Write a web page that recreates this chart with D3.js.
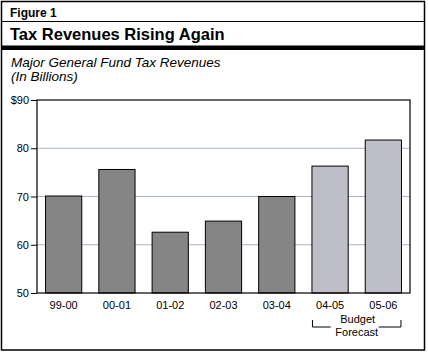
<!DOCTYPE html>
<html><head><meta charset="utf-8">
<script src="https://cdn.jsdelivr.net/npm/d3@7"></script>
<style>body{margin:0;background:#fff}svg{display:block}text{font-family:"Liberation Sans",Arial,sans-serif}</style>
</head><body>
<script>
const categories = ["99-00","00-01","01-02","02-03","03-04","04-05","05-06"];
const values = [70.1, 75.6, 62.6, 64.9, 70.0, 76.3, 81.7];
const forecast = [false,false,false,false,false,true,true];
const yTicks = [50,60,70,80,90];

const W=428,H=353;
const svg=d3.select("body").append("svg").attr("width",W).attr("height",H);
svg.append("rect").attr("x",1.5).attr("y",1.5).attr("width",423).attr("height",348.5).attr("fill","none").attr("stroke","#000").attr("stroke-width",1.5);
svg.append("text").attr("x",10).attr("y",17).attr("font-size",12).attr("font-weight","bold").text("Figure 1");
svg.append("line").attr("x1",1).attr("x2",425).attr("y1",21.5).attr("y2",21.5).attr("stroke","#000").attr("stroke-width",1);
svg.append("text").attr("x",10).attr("y",40).attr("font-size",16.5).attr("font-weight","bold").text("Tax Revenues Rising Again");
svg.append("rect").attr("x",1).attr("y",45.5).attr("width",424).attr("height",4.5).attr("fill","#000");
svg.append("text").attr("x",11).attr("y",67).attr("font-size",13.5).attr("font-style","italic").text("Major General Fund Tax Revenues");
svg.append("text").attr("x",11).attr("y",81).attr("font-size",13.5).attr("font-style","italic").text("(In Billions)");

const m={l:37,t:100,r:410,b:293};
const x=d3.scaleBand().domain(categories).range([m.l,m.r]).paddingInner(0.32).paddingOuter(0.16);
const y=d3.scaleLinear().domain([50,90]).range([m.b,m.t]);

svg.append("g").selectAll("line").data(yTicks.filter(t=>t>50&&t<90)).join("line")
 .attr("x1",m.l).attr("x2",m.r).attr("y1",d=>y(d)).attr("y2",d=>y(d)).attr("stroke","#a9b5c5").attr("stroke-width",1);

svg.append("g").selectAll("rect").data(categories).join("rect")
 .attr("x",d=>x(d)).attr("width",x.bandwidth())
 .attr("y",(d,i)=>y(values[i])).attr("height",(d,i)=>y(50)-y(values[i]))
 .attr("fill",(d,i)=>forecast[i]?"#bdbec8":"#858585").attr("stroke","#000").attr("stroke-width",1);

svg.append("rect").attr("x",m.l).attr("y",m.t).attr("width",m.r-m.l).attr("height",m.b-m.t).attr("fill","none").attr("stroke","#000").attr("stroke-width",1.2);

const ya=svg.append("g").attr("transform",`translate(${m.l},0)`).call(d3.axisLeft(y).tickValues(yTicks).tickSize(6).tickPadding(2).tickFormat(d=>d===90?"$90":d));
ya.select(".domain").remove();
ya.selectAll("text").attr("font-size",11).attr("font-family","Liberation Sans, Arial, sans-serif").attr("fill","#000");
ya.selectAll("line").attr("stroke","#000");

const xa=svg.append("g").attr("transform",`translate(0,${m.b})`).call(d3.axisBottom(x).tickSize(0).tickPadding(8));
xa.select(".domain").remove();
xa.selectAll("text").attr("font-size",11).attr("font-family","Liberation Sans, Arial, sans-serif").attr("fill","#000");

const bx1=x("04-05")+0.5, bx2=x("05-06")+x.bandwidth()-0.5;
const mid=(bx1+bx2)/2;
const bracket=svg.append("g").attr("stroke","#000").attr("fill","none").attr("stroke-width",1);
bracket.append("path").attr("d",`M${bx1},320V327H${mid-26}`);
bracket.append("path").attr("d",`M${bx2},320V327H${mid+22}`);
svg.append("text").attr("x",mid+1).attr("y",323).attr("text-anchor","middle").attr("font-size",11).text("Budget");
svg.append("text").attr("x",mid).attr("y",336).attr("text-anchor","middle").attr("font-size",11).text("Forecast");
</script>
</body></html>
